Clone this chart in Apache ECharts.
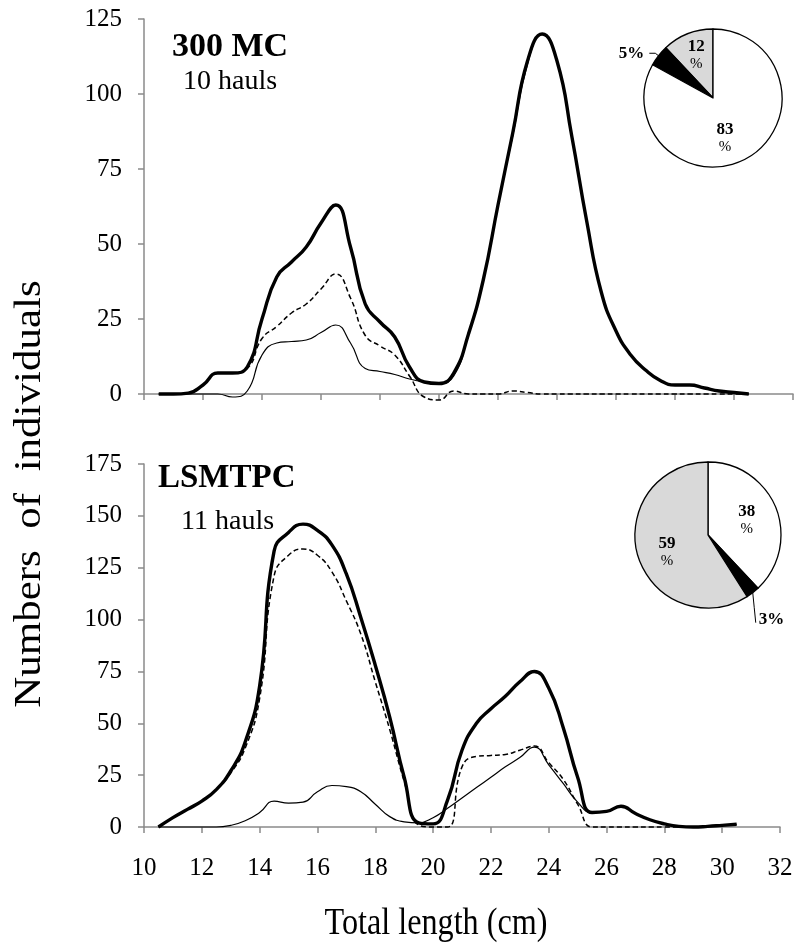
<!DOCTYPE html>
<html>
<head>
<meta charset="utf-8">
<script src="https://cdn.jsdelivr.net/npm/echarts@6/dist/echarts.min.js"></script>
<style>
  html, body { margin: 0; padding: 0; background: #fff; }
  #chart { width: 796px; height: 945px; }
</style>
</head>
<body>
<div id="chart"></div>
<script>
// length classes (cm)
var lengths = [10.5, 11, 11.5, 12, 12.5, 13, 13.5, 14, 14.5, 15, 15.5, 16, 16.5, 17, 17.5, 18, 18.5, 19, 19.5, 20,
  20.5, 21, 21.5, 22, 22.5, 23, 23.5, 24, 24.5, 25, 25.5, 26, 26.5, 27, 27.5, 28, 28.5, 29, 29.5, 30, 30.5];

// 300 MC - 10 hauls
var mcTotal = [0, 0, 0.3, 3, 7, 7, 9, 25, 39, 44, 49, 57, 63, 49, 30, 24, 19, 9, 4, 3.5,
  7, 20, 38, 63, 87, 111, 120, 111, 86, 58, 34, 21, 13, 8, 4.5, 3, 3, 2, 1, 0.5, 0];
var mcDash = [0, 0, 0.3, 3, 7, 7, 8.5, 18.5, 22.5, 27, 30, 35, 40, 32, 19.5, 16, 13, 6, -1, -2,
  1, 0, 0, 0, 1, 0.5, 0, 0, 0, 0, 0, 0, 0, 0, 0, 0, 0, 0, 0, 0, 0];
var mcThin = [0, 0, 0, 0, 0, -1, 1, 13, 17, 17.5, 18, 20.5, 23, 17, 8.5, 7.5, 6.5, 5, 4, 3.5,
  6, 20, 38, 63, 86, 110, 120, 111, 86, 58, 34, 21, 13, 8, 4.5, 3, 3, 2, 1, 0.5, 0];

// LSMTPC - 11 hauls
var lsmTotal = [0, 4.5, 8.5, 12.5, 18, 27, 41, 68, 133, 142, 146, 143, 136, 122, 101, 78, 53, 24, 2, 1.5,
  13, 37, 50, 57, 63, 70, 75, 67, 48, 24, 7, 7.5, 10, 6.5, 3.5, 1.5, 0.3, 0, 0.3, 0.8, 1.3];
var lsmDash = [0, 4.5, 8.5, 12.5, 18, 26, 38, 62, 121, 131, 134, 131, 123, 109, 93, 70, 47, 22, 1, 0,
  0, 29, 34, 34.5, 35, 37, 39, 31, 23, 11, 0, 0, 0, 0, 0, 0, 0, null, null, null, null];
var lsmThin = [0, 0, 0, 0, 0, 0.8, 3, 7, 12.5, 11.5, 12, 17, 20, 19.5, 17, 11, 5, 2.5, 2, 4.5,
  9, 14, 19, 24, 29, 33.5, 38.5, 30, 21, 12, 7, 7.5, 10, 6.5, 3.5, 1.5, 0.3, 0, 0.3, 0.8, 1.3];

// pie shares (%)
var mcPieNames = ['grey', 'black', 'white'];
var mcPieValues = [12, 5, 83];
var lsmPieNames = ['white', 'black', 'grey'];
var lsmPieValues = [38, 3, 59];

var serif = 'Liberation Serif, Times New Roman, serif';
var axisGrey = '#8a8a8a';
var sliceColors = { grey: '#d9d9d9', black: '#000000', white: '#ffffff' };

function pairs(vals) {
  return lengths.map(function (x, i) { return [x, vals[i]]; });
}

function xAxisCfg(gridIndex, showLabels) {
  return {
    type: 'value', gridIndex: gridIndex, min: 10, max: 32, interval: 2,
    axisLine: { onZero: false, lineStyle: { color: axisGrey, width: 1.5 } },
    axisTick: { show: true, length: 6, lineStyle: { color: axisGrey, width: 1.5 } },
    axisLabel: { show: showLabels, margin: 29, color: '#000', fontFamily: serif, fontSize: 25 },
    splitLine: { show: false }
  };
}
function yAxisCfg(gridIndex, max) {
  return {
    type: 'value', gridIndex: gridIndex, min: 0, max: max, interval: 25,
    axisLine: { show: true, lineStyle: { color: axisGrey, width: 1.5 } },
    axisTick: { show: true, length: 6, lineStyle: { color: axisGrey, width: 1.5 } },
    axisLabel: { margin: 22, color: '#000', fontFamily: serif, fontSize: 25 },
    splitLine: { show: false }
  };
}
function lineCfg(idx, vals, kind) {
  var style = { color: '#000', width: 1.2, type: 'solid' };
  if (kind === 'dash') style = { color: '#000', width: 1.5, type: [5, 3] };
  if (kind === 'bold') style = { color: '#000', width: 3.4, type: 'solid' };
  return {
    type: 'line', xAxisIndex: idx, yAxisIndex: idx, data: pairs(vals),
    smooth: 0.5, showSymbol: false, clip: false, lineStyle: style,
    itemStyle: { color: '#000' }, silent: true
  };
}
function pieData(names, vals) {
  return names.map(function (n, i) {
    var small = vals[i] < 10;
    return {
      name: n, value: vals[i],
      itemStyle: { color: sliceColors[n] },
      label: small
        ? { show: true, position: 'outside', formatter: '{o|' + vals[i] + '%}' }
        : { show: true, position: 'inside', formatter: '{n|' + vals[i] + '}\n{p|%}' },
      labelLine: { show: small, length: 4, length2: 6, lineStyle: { color: '#000', width: 1 } }
    };
  });
}
var pieRich = {
  n: { fontFamily: serif, fontWeight: 'bold', fontSize: 17, color: '#000', lineHeight: 18 },
  p: { fontFamily: serif, fontSize: 15, color: '#000', lineHeight: 17 },
  o: { fontFamily: serif, fontWeight: 'bold', fontSize: 17, color: '#000' }
};

var chart = echarts.init(document.getElementById('chart'), null, { renderer: 'canvas' });
chart.setOption({
  backgroundColor: '#fff',
  animation: false,
  grid: [
    { left: 144, top: 19, width: 649, height: 375 },
    { left: 144, top: 464, width: 636, height: 363 }
  ],
  xAxis: [xAxisCfg(0, false), xAxisCfg(1, true)],
  yAxis: [yAxisCfg(0, 125), yAxisCfg(1, 175)],
  series: [
    lineCfg(0, mcThin, 'thin'),
    lineCfg(0, mcDash, 'dash'),
    lineCfg(0, mcTotal, 'bold'),
    lineCfg(1, lsmThin, 'thin'),
    lineCfg(1, lsmDash, 'dash'),
    lineCfg(1, lsmTotal, 'bold'),
    {
      type: 'pie', center: [713, 98], radius: 69, startAngle: 90, clockwise: false,
      avoidLabelOverlap: false, silent: true,
      itemStyle: { borderColor: '#000', borderWidth: 1.3 },
      label: { rich: pieRich },
      data: pieData(mcPieNames, mcPieValues),
      labelLayout: function (p) {
        if (p.dataIndex === 0) return { dx: -3, dy: -8 };
        if (p.dataIndex === 2) return { dx: -7, dy: 8 };
        return {};
      }
    },
    {
      type: 'pie', center: [708, 535], radius: 73, startAngle: 90, clockwise: true,
      avoidLabelOverlap: false, silent: true,
      itemStyle: { borderColor: '#000', borderWidth: 1.3 },
      label: { rich: pieRich },
      data: pieData(lsmPieNames, lsmPieValues),
      labelLayout: function (p) {
        if (p.dataIndex === 1 && p.labelLinePoints) {
          var s = p.labelLinePoints[0];
          return {
            x: s[0] + 6, y: s[1] + 27, align: 'left', verticalAlign: 'middle',
            labelLinePoints: [s, [s[0] + 1.5, s[1] + 15], [s[0] + 3, s[1] + 30]]
          };
        }
        if (p.dataIndex === 0) return { dx: 2, dy: 0 };
        if (p.dataIndex === 2) return { dx: -3, dy: 6 };
        return {};
      }
    }
  ],
  graphic: [
    { type: 'text', x: 172, y: 47, style: { text: '300 MC', font: 'bold 34px ' + serif, fill: '#000', textAlign: 'left', textVerticalAlign: 'middle' } },
    { type: 'text', x: 183, y: 82, style: { text: '10 hauls', font: '28px ' + serif, fill: '#000', textAlign: 'left', textVerticalAlign: 'middle' } },
    { type: 'text', x: 158, y: 478, style: { text: 'LSMTPC', font: 'bold 33px ' + serif, fill: '#000', textAlign: 'left', textVerticalAlign: 'middle' } },
    { type: 'text', x: 181, y: 522, style: { text: '11 hauls', font: '28px ' + serif, fill: '#000', textAlign: 'left', textVerticalAlign: 'middle' } },
    { type: 'text', x: 30, y: 494, rotation: Math.PI / 2, scaleY: 0.9, style: { text: 'Numbers  of  individuals', font: '43px ' + serif, fill: '#000', textAlign: 'center', textVerticalAlign: 'middle' } },
    { type: 'text', x: 436, y: 924, scaleX: 0.87, style: { text: 'Total length (cm)', font: '37px ' + serif, fill: '#000', textAlign: 'center', textVerticalAlign: 'middle' } }
  ]
});
</script>
</body>
</html>
